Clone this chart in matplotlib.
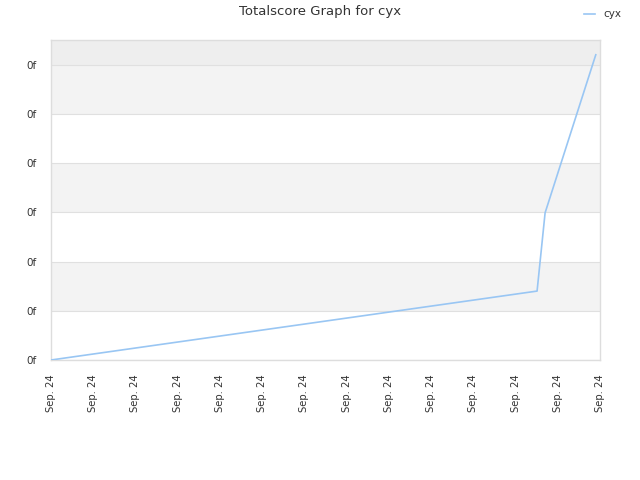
import matplotlib
matplotlib.use("Agg")
import matplotlib.pyplot as plt
from matplotlib.ticker import FixedLocator, FixedFormatter

# Data
x_vals = [0.0, 11.51, 11.70, 12.9]
y_vals = [0.0, 1.40, 2.99, 6.2]
x_ticks = list(range(14))
x_tick_labels = ["Sep. 24"] * 14
y_ticks = [0, 1, 2, 3, 4, 5, 6]
y_tick_labels = ["0f"] * 7
series_name = "cyx"

fig = plt.figure(figsize=(6.4, 4.8), dpi=100)
ax = fig.add_axes([51/640, 120/480, 549/640, 320/480])

ymax = 6.5
# background bands
band_colors = ["#ffffff", "#f3f3f3", "#ffffff", "#f3f3f3", "#ffffff", "#f3f3f3"]
for i in range(6):
    ax.axhspan(i, i + 1, color=band_colors[i], zorder=0, lw=0)
ax.axhspan(6, ymax, color="#eeeeee", zorder=0, lw=0)
for yt in y_ticks:
    ax.axhline(yt, color="#e0e0e0", lw=0.8, zorder=1)

ax.plot(x_vals, y_vals, color="#99c6f3", lw=1.2, label=series_name, zorder=3)

ax.set_xlim(0, 13)
ax.set_ylim(0, ymax)
ax.xaxis.set_major_locator(FixedLocator(x_ticks))
ax.xaxis.set_major_formatter(FixedFormatter(x_tick_labels))
ax.yaxis.set_major_locator(FixedLocator(y_ticks))
ax.yaxis.set_major_formatter(FixedFormatter(y_tick_labels))
ax.tick_params(axis="x", labelrotation=90, labelsize=7.2, colors="#333333", length=0, pad=10)
ax.tick_params(axis="y", labelsize=7.5, colors="#333333", length=0, pad=10)
for s in ax.spines.values():
    s.set_color("#dddddd")
    s.set_linewidth(1)

fig.text(0.5, 1 - 12/480, "Totalscore Graph for cyx", ha="center", va="center",
         fontsize=9.5, color="#333333")
leg = fig.legend(loc="upper right", bbox_to_anchor=(0.985, 1.0), frameon=False,
                 fontsize=7.5, handlelength=1.0, handletextpad=0.8)
for t in leg.get_texts():
    t.set_color("#333333")

fig.savefig("out.png", dpi=100)
